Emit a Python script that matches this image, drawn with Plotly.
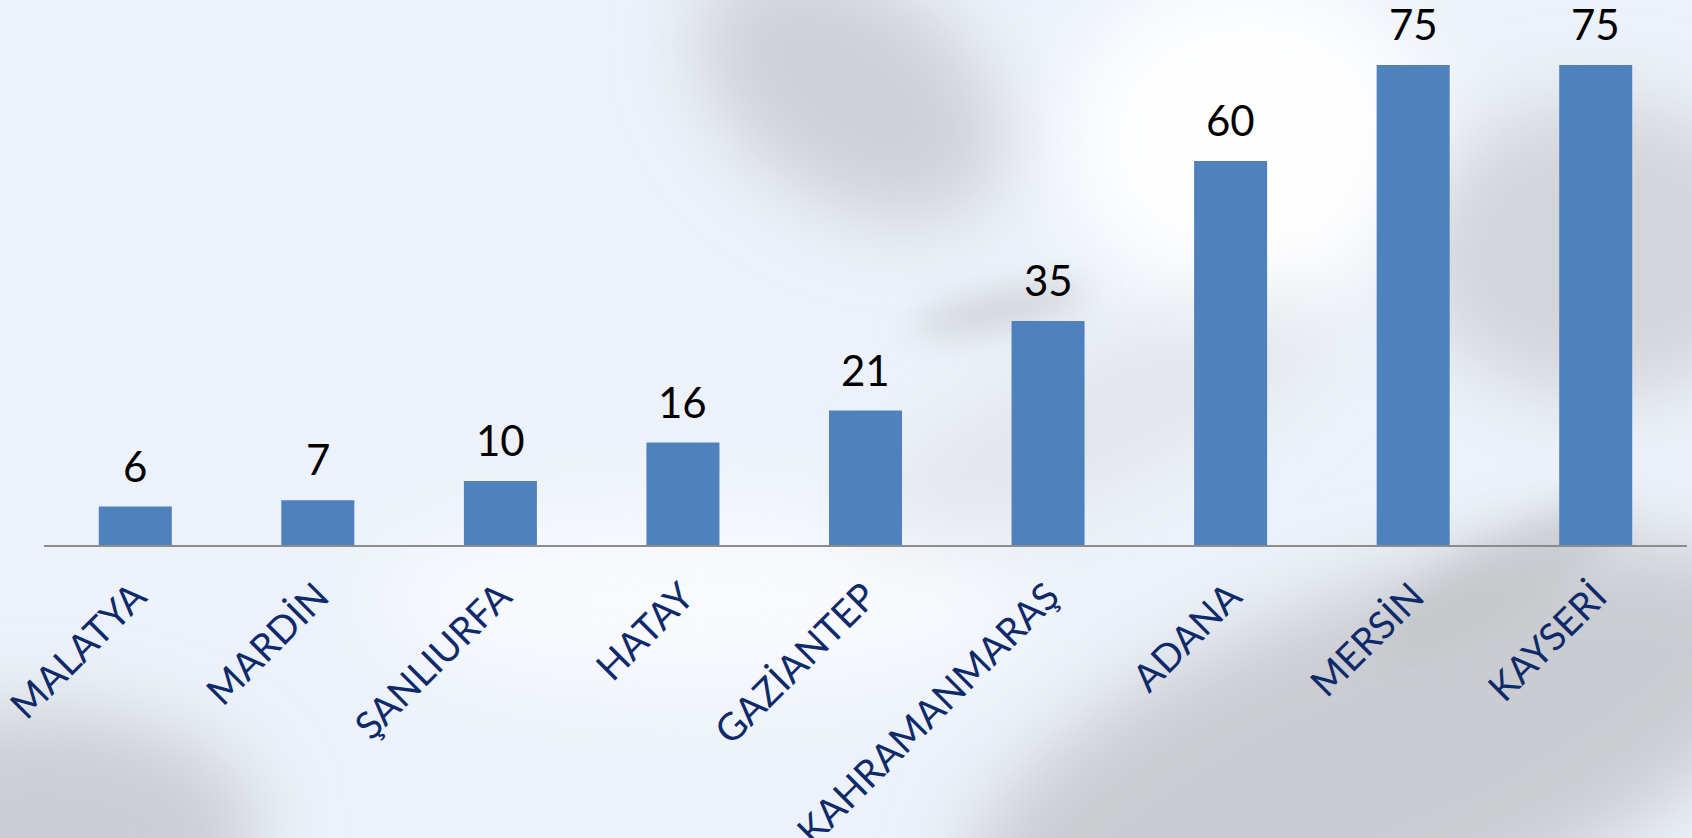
import base64
import plotly.graph_objects as go

categories = ["MALATYA", "MARDİN", "ŞANLIURFA", "HATAY", "GAZİANTEP",
              "KAHRAMANMARAŞ", "ADANA", "MERSİN", "KAYSERİ"]
values = [6, 7, 10, 16, 21, 35, 60, 75, 75]

W, H = 1692, 838
ML, MR, MT, MB = 44, 5, 33, 293
PW, PH = W - ML - MR, H - MT - MB

# decorative background (soft clouds)
svg = f'''<svg xmlns="http://www.w3.org/2000/svg" width="{W}" height="{H}" viewBox="0 0 {W} {H}" preserveAspectRatio="none">
<defs>
<filter id="b" x="-50%" y="-50%" width="200%" height="200%"><feGaussianBlur stdDeviation="40"/></filter>
<filter id="s" x="-50%" y="-50%" width="200%" height="200%"><feGaussianBlur stdDeviation="18"/></filter>
</defs>
<rect width="{W}" height="{H}" fill="#EDF2FA"/>
<g filter="url(#b)">
<ellipse cx="850" cy="90" rx="170" ry="110" fill="#C6C8CC" opacity="0.8" transform="rotate(35 850 90)"/>
<ellipse cx="1600" cy="250" rx="190" ry="150" fill="#C9CBCF" opacity="0.75"/>
<ellipse cx="1380" cy="760" rx="440" ry="170" fill="#C4C6CA" opacity="0.85" transform="rotate(-20 1380 760)"/>
<ellipse cx="40" cy="830" rx="220" ry="120" fill="#C2C4C8" opacity="0.8"/>
<ellipse cx="1250" cy="140" rx="180" ry="160" fill="#FFFFFF" opacity="0.95"/>
<ellipse cx="700" cy="600" rx="320" ry="90" fill="#F9FBFE" opacity="0.9"/>
<ellipse cx="1100" cy="420" rx="260" ry="70" fill="#DADCE0" opacity="0.55" transform="rotate(-25 1100 420)"/>
</g>
<g filter="url(#s)">
<ellipse cx="1000" cy="310" rx="90" ry="14" fill="#B5B7BB" opacity="0.7" transform="rotate(-12 1000 310)"/>
<ellipse cx="1500" cy="580" rx="140" ry="40" fill="#BFC1C5" opacity="0.6" transform="rotate(-30 1500 580)"/>
</g>
</svg>'''
src = "data:image/svg+xml;base64," + base64.b64encode(svg.encode("utf-8")).decode("ascii")

fig = go.Figure()
fig.add_trace(go.Bar(
    x=categories, y=values,
    marker=dict(color="#4F81BD", line=dict(width=0)),
    hoverinfo="skip",
))

for c, v in zip(categories, values):
    fig.add_annotation(x=c, y=v, text=str(v), showarrow=False,
                       yanchor="bottom", yshift=14,
                       font=dict(family="Lato", size=42, color="#000000"))

fig.update_layout(
    width=W, height=H,
    margin=dict(l=ML, r=MR, t=MT, b=MB, pad=0, autoexpand=False),
    paper_bgcolor="#EDF2FA",
    plot_bgcolor="rgba(0,0,0,0)",
    bargap=0.6,
    showlegend=False,
    images=[dict(source=src, xref="paper", yref="paper",
                 x=-ML / PW, y=(PH + MT) / PH, sizex=W / PW, sizey=H / PH,
                 xanchor="left", yanchor="top", sizing="stretch", layer="below")],
)
fig.update_xaxes(
    automargin=False,
    tickangle=-45,
    tickfont=dict(family="Lato", size=38, color="#0E2A6B"),
    showline=True, linecolor="#8C8C8C", linewidth=2,
    ticks="outside", ticklen=12, tickcolor="rgba(0,0,0,0)",
    showgrid=False, zeroline=False,
)
fig.update_yaxes(range=[0, 80], visible=False, showgrid=False, zeroline=False,
                 automargin=False)

fig.write_html("out.html", config={"displayModeBar": False},
               post_script="document.body.style.margin='0';document.body.style.overflow='hidden';")
